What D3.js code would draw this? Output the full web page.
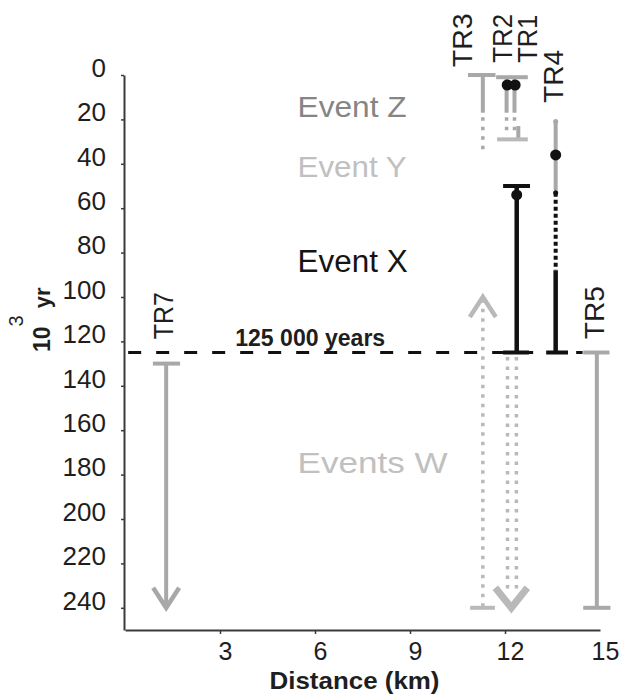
<!DOCTYPE html>
<html>
<head>
<meta charset="utf-8">
<script src="https://cdn.jsdelivr.net/npm/d3@7"></script>
<style>
  html, body { margin: 0; padding: 0; background: #fff; }
  svg { display: block; }
  text { font-family: "Liberation Sans", Arial, Helvetica, sans-serif; }
</style>
</head>
<body>
<div id="chart"></div>
<script>
// ---------------- DATA ----------------
const yTicks = [0, 20, 40, 60, 80, 100, 120, 140, 160, 180, 200, 220, 240];
const xTicks = [3, 6, 9, 12, 15];
const referenceAge = 125; // 10^3 yr

// age ranges per trench: distance (km), ages (10^3 yr)
const segments = [
  { tr: "TR7", dist: 1.3,   from: 130, to: 239, tone: "grey",  line: "solid" },
  { tr: "TR5", dist: 14.9,  from: 125, to: 240, tone: "grey",  line: "solid" },
  { tr: "TR3", dist: 11.3,  from: 101, to: 240, tone: "light", line: "dotted" },
  { tr: "TR2", dist: 12.08, from: 127, to: 233, tone: "light", line: "dotted" },
  { tr: "TR1", dist: 12.36, from: 127, to: 233, tone: "light", line: "dotted" },
  { tr: "TR3", dist: 11.3,  from: 0,   to: 17,  tone: "grey",  line: "solid" },
  { tr: "TR3", dist: 11.3,  from: 19,  to: 36,  tone: "grey",  line: "dotted" },
  { tr: "TR2", dist: 12.05, from: 1,   to: 17,  tone: "grey",  line: "solid" },
  { tr: "TR2", dist: 12.05, from: 19,  to: 26,  tone: "grey",  line: "dotted" },
  { tr: "TR1", dist: 12.3,  from: 1,   to: 17,  tone: "grey",  line: "solid" },
  { tr: "TR1", dist: 12.3,  from: 19,  to: 26,  tone: "grey",  line: "dotted" },
  { tr: "TR1", dist: 12.42, from: 23,  to: 29,  tone: "grey",  line: "solid" },
  { tr: "TR1", dist: 12.37, from: 50,  to: 125, tone: "black", line: "solid" },
  { tr: "TR4", dist: 13.6,  from: 21,  to: 52,  tone: "grey",  line: "solid" },
  { tr: "TR4", dist: 13.6,  from: 53,  to: 88,  tone: "black", line: "dotted" },
  { tr: "TR4", dist: 13.6,  from: 88,  to: 125, tone: "black", line: "solid" }
];

// end caps: age, distance span
const caps = [
  { at: 130, d0: 0.88,  d1: 1.74,  tone: "grey" },
  { at: 125, d0: 14.47, d1: 15.3,  tone: "grey" },
  { at: 240, d0: 14.47, d1: 15.33, tone: "grey" },
  { at: 240, d0: 10.9,  d1: 11.68, tone: "light" },
  { at: 0,   d0: 10.83, d1: 11.7,  tone: "grey" },
  { at: 1,   d0: 11.72, d1: 12.72, tone: "grey" },
  { at: 29,  d0: 11.75, d1: 12.72, tone: "light" },
  { at: 50,  d0: 11.94, d1: 12.79, tone: "black" },
  { at: 125, d0: 11.94, d1: 12.76, tone: "black" },
  { at: 125, d0: 13.3,  d1: 13.99, tone: "black" }
];

// dated samples
const dots = [
  { dist: 12.07, at: 4.5, tone: "black", big: true },
  { dist: 12.32, at: 4.5, tone: "black", big: true },
  { dist: 12.37, at: 54,  tone: "black", big: true },
  { dist: 13.6,  at: 36,  tone: "black", big: true },
  { dist: 13.6,  at: 21,  tone: "grey",  big: false },
  { dist: 13.6,  at: 53,  tone: "black", big: false }
];

// open-ended ranges
const arrows = [
  { dist: 1.3,  at: 240, dir: "down", tone: "grey",  wide: false },
  { dist: 11.3, at: 100, dir: "up",   tone: "light", wide: false },
  { dist: 12.2, at: 240, dir: "down", tone: "light", wide: true }
];

// trench labels (anchor in data units: distance of baseline, age of text start)
const trenchLabels = [
  { name: "TR3", dist: 10.96, at: -3.5 },
  { name: "TR2", dist: 12.22, at: -5.5 },
  { name: "TR1", dist: 13.02, at: -5.5 },
  { name: "TR4", dist: 13.83, at: 12.6 },
  { name: "TR7", dist: 1.52,  at: 119 },
  { name: "TR5", dist: 15.12, at: 119 }
];

// event labels
const eventLabels = [
  { text: "Event Z",  dist: 5.45, at: 19.0,  tone: "mid" },
  { text: "Event Y",  dist: 5.45, at: 45.9,  tone: "pale" },
  { text: "Event X",  dist: 5.45, at: 88.7,  tone: "dark" },
  { text: "Events W", dist: 5.45, at: 179.2, tone: "pale" }
];

// ---------------- CHART ----------------
const W = 620, H = 696;
const svg = d3.select("#chart").append("svg").attr("width", W).attr("height", H);

const x = d3.scaleLinear().domain([0, 15]).range([125, 600]);
const y = d3.scaleLinear().domain([0, 250]).range([75, 630]);

const toneColor = { grey: "#a8a8a8", light: "#b9b9b9", black: "#111111" };
const textColor = { mid: "#858585", pale: "#c0c0c0", dark: "#141414" };

// axes
const yAxis = d3.axisLeft(y).tickValues(yTicks).tickSize(3).tickSizeOuter(0).tickPadding(15);
const gy = svg.append("g").attr("transform", `translate(${x(0) - 1},0)`).call(yAxis);
gy.select(".domain").attr("stroke", "#3a3a3a").attr("stroke-width", 2);
gy.selectAll(".tick line").attr("stroke", "#3a3a3a").attr("stroke-width", 1.5);
gy.selectAll(".tick text").attr("font-size", 26).attr("fill", "#1e1e1e")
  .attr("font-family", "Liberation Sans, Arial, sans-serif").attr("dy", "0.05em");

const xAxis = d3.axisBottom(x).tickValues(xTicks).tickSize(4).tickSizeOuter(0).tickPadding(8);
const gx = svg.append("g").attr("transform", `translate(0,${y(250)})`).call(xAxis);
gx.select(".domain").attr("stroke", "#3a3a3a").attr("stroke-width", 2);
gx.selectAll(".tick line").attr("stroke", "#3a3a3a").attr("stroke-width", 1.5)
  .filter(d => d === 15).remove();
gx.selectAll(".tick text").attr("font-size", 25).attr("fill", "#1e1e1e")
  .attr("font-family", "Liberation Sans, Arial, sans-serif").attr("dx", 5);

// axis titles
svg.append("text")
  .attr("x", (x(0) + x(15)) / 2 - 8).attr("y", 689)
  .attr("text-anchor", "middle").attr("font-size", 24).attr("font-weight", "bold")
  .attr("fill", "#1e1e1e").attr("textLength", 170).attr("lengthAdjust", "spacingAndGlyphs")
  .text("Distance (km)");

const yt = svg.append("text")
  .attr("transform", `translate(50,352) rotate(-90)`)
  .attr("font-weight", "bold").attr("fill", "#1e1e1e");
yt.append("tspan").attr("font-size", 23).text("10");
yt.append("tspan").attr("font-size", 20).attr("font-weight", "normal").attr("dy", -27).attr("dx", 0).text("3");
yt.append("tspan").attr("font-size", 22).attr("dy", 27).attr("dx", 7).text("yr");

// reference line at 125 ka
svg.append("line")
  .attr("x1", x(0.1)).attr("x2", x(14.45))
  .attr("y1", y(referenceAge)).attr("y2", y(referenceAge))
  .attr("stroke", "#111").attr("stroke-width", 3).attr("stroke-dasharray", "13,15");
svg.append("text")
  .attr("x", x(3.48)).attr("y", y(referenceAge) - 7)
  .attr("font-size", 23).attr("font-weight", "bold").attr("fill", "#1e1e1e")
  .attr("textLength", 150).attr("lengthAdjust", "spacingAndGlyphs")
  .text("125 000 years");

// event labels
const evWidth = { "Event Z": 109, "Event Y": 109, "Event X": 110, "Events W": 150 };
svg.append("g").selectAll("text").data(eventLabels).join("text")
  .attr("x", d => x(d.dist)).attr("y", d => y(d.at))
  .attr("font-size", d => d.tone === "dark" ? 31 : 29)
  .attr("fill", d => textColor[d.tone])
  .attr("textLength", d => evWidth[d.text]).attr("lengthAdjust", "spacingAndGlyphs")
  .text(d => d.text);

// trench labels
const trLen = { TR3: 54, TR2: 49, TR1: 48, TR4: 53, TR7: 47, TR5: 53 };
svg.append("g").selectAll("text").data(trenchLabels).join("text")
  .attr("transform", d => `translate(${x(d.dist)},${y(d.at)}) rotate(-90)`)
  .attr("font-size", 28).attr("fill", "#1e1e1e")
  .attr("textLength", d => trLen[d.name]).attr("lengthAdjust", "spacingAndGlyphs")
  .text(d => d.name);

// segments
svg.append("g").selectAll("line").data(segments).join("line")
  .attr("x1", d => x(d.dist)).attr("x2", d => x(d.dist))
  .attr("y1", d => y(d.from)).attr("y2", d => y(d.to))
  .attr("stroke", d => toneColor[d.tone])
  .attr("stroke-width", d => d.line === "dotted" ? (d.tone === "black" ? 4 : 3.5) : (d.tone === "black" ? 4.5 : 4))
  .attr("stroke-dasharray", d => d.line === "dotted" ? (d.tone === "black" ? "4,3" : "3.5,6") : null);

// caps
svg.append("g").selectAll("line").data(caps).join("line")
  .attr("x1", d => x(d.d0)).attr("x2", d => x(d.d1))
  .attr("y1", d => y(d.at)).attr("y2", d => y(d.at))
  .attr("stroke", d => toneColor[d.tone]).attr("stroke-width", 4);

// arrowheads
svg.append("g").selectAll("path").data(arrows).join("path")
  .attr("d", d => {
    const cx = x(d.dist), cy = y(d.at);
    const hw = d.wide ? 16 : 13, hh = 20;
    const s = d.dir === "down" ? -1 : 1;
    return `M${cx - hw},${cy + s * hh} L${cx},${cy} L${cx + hw},${cy + s * hh}`;
  })
  .attr("fill", "none")
  .attr("stroke", d => toneColor[d.tone])
  .attr("stroke-width", d => d.wide ? 7 : 4.5)
  .attr("stroke-linejoin", "miter");

// dots
svg.append("g").selectAll("circle").data(dots).join("circle")
  .attr("cx", d => x(d.dist)).attr("cy", d => y(d.at))
  .attr("r", d => d.big ? 5.5 : 2.5)
  .attr("fill", d => toneColor[d.tone]);
</script>
</body>
</html>
